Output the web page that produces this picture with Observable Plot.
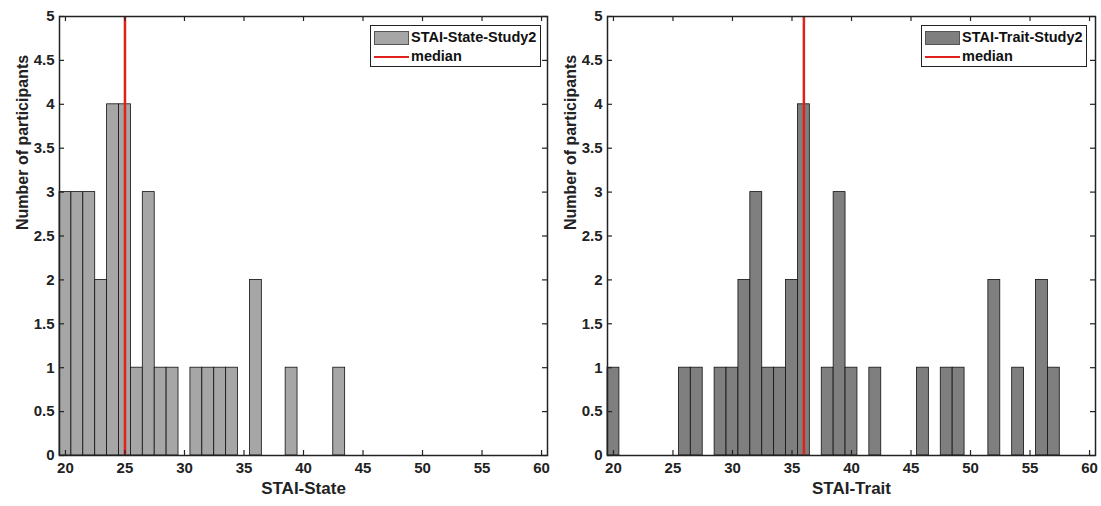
<!DOCTYPE html>
<html>
<head>
<meta charset="utf-8">
<script src="https://cdn.jsdelivr.net/npm/d3@7"></script>
<script src="https://cdn.jsdelivr.net/npm/@observablehq/plot@0.6"></script>
<style>
  html, body { margin: 0; padding: 0; background: #fff; }
  #root { position: relative; width: 1101px; height: 506px; overflow: hidden; font-family: "Liberation Sans", Arial, sans-serif; }
  .panel { position: absolute; top: 0; }
  .legend { position: absolute; background: #fff; border: 1.5px solid #222; box-sizing: border-box;
            font-weight: bold; font-size: 14.5px; color: #111; padding: 2px 3px; line-height: 19px; }
  .legend .row { display: flex; align-items: center; white-space: nowrap; }
  .legend .sw { width: 35px; height: 14px; border: 1px solid #555; box-sizing: border-box; margin-right: 2px; }
  .legend .ln { width: 35px; height: 2px; background: #e0201b; margin-right: 2px; }
</style>
</head>
<body>
<div id="root"></div>
<script>
// ---- data ----
const stateScores = [20,21,22,23,24,25,26,27,28,29,31,32,33,34,36,39,43];
const stateCounts = [ 3, 3, 3, 2, 4, 4, 1, 3, 1, 1, 1, 1, 1, 1, 2, 1, 1];
const traitScores = [20,26,27,29,30,31,32,33,34,35,36,38,39,40,42,46,48,49,52,54,56,57];
const traitCounts = [ 1, 1, 1, 1, 1, 2, 3, 1, 1, 2, 4, 1, 3, 1, 1, 1, 1, 1, 2, 1, 2, 1];
const xTicks = [20,25,30,35,40,45,50,55,60];
const yTicks = [0,0.5,1,1.5,2,2.5,3,3.5,4,4.5,5];
const panels = [
  {xLabel: "STAI-State", legend: "STAI-State-Study2", scores: stateScores, counts: stateCounts, fill: "#a6a6a6"},
  {xLabel: "STAI-Trait", legend: "STAI-Trait-Study2", scores: traitScores, counts: traitCounts, fill: "#7f7f7f"}
];

const root = document.getElementById("root");
const layout = [
  {left: 0, width: 550, mL: 59, mR: 3, legend: {x: 370, w: 171}},
  {left: 550, width: 551, mL: 57, mR: 6, legend: {x: 921, w: 166}}
];
const mT = 16, mB = 51, H = 506;
const frameH = H - mT - mB;

panels.forEach((p, i) => {
  const L = layout[i];
  const frameW = L.width - L.mL - L.mR;
  const data = p.scores.map((s, k) => ({score: s, count: p.counts[k]}));
  const expanded = data.flatMap(d => Array(d.count).fill(d.score));
  const median = d3.median(expanded);
  const chart = Plot.plot({
    width: L.width, height: H,
    marginLeft: L.mL, marginRight: L.mR, marginTop: mT, marginBottom: mB,
    style: {fontFamily: "Liberation Sans, Arial, sans-serif", fontSize: "15px", fontWeight: "bold", color: "#222", background: "#fff"},
    x: {domain: [19.5, 60.5]},
    y: {domain: [0, 5]},
    marks: [
      Plot.rectY(data, {x1: d => d.score - 0.5, x2: d => d.score + 0.5, y: "count", fill: p.fill, stroke: "#111", strokeWidth: 0.8}),
      Plot.ruleX([median], {stroke: "#e0201b", strokeWidth: 2.5}),
      // inward ticks on all four sides (MATLAB box style)
      Plot.ruleX(xTicks, {stroke: "#222", strokeWidth: 1.2, insetTop: frameH - 5}),
      Plot.ruleX(xTicks, {stroke: "#222", strokeWidth: 1.2, insetBottom: frameH - 5}),
      Plot.ruleY(yTicks, {stroke: "#222", strokeWidth: 1.2, insetRight: frameW - 5}),
      Plot.ruleY(yTicks, {stroke: "#222", strokeWidth: 1.2, insetLeft: frameW - 5}),
      Plot.frame({stroke: "#222", strokeWidth: 1.5}),
      Plot.axisX(xTicks, {tickSize: 0, tickPadding: 7, fontSize: 15, fontWeight: "bold", label: null, tickFormat: d => String(d)}),
      Plot.axisY(yTicks, {tickSize: 0, tickPadding: 5, fontSize: 15, fontWeight: "bold", label: null, tickFormat: d => String(d)}),
      Plot.text([p.xLabel], {frameAnchor: "bottom", dy: 38, fontSize: 17, fontWeight: "bold", fill: "#222"}),
      Plot.text(["Number of participants"], {frameAnchor: "left", dx: -37, dy: -6, rotate: -90, fontSize: 16, fontWeight: "bold", fill: "#222"})
    ]
  });
  const wrap = document.createElement("div");
  wrap.className = "panel";
  wrap.style.left = L.left + "px";
  wrap.appendChild(chart);
  root.appendChild(wrap);

  const lg = document.createElement("div");
  lg.className = "legend";
  lg.style.left = L.legend.x + "px";
  lg.style.top = "25px";
  lg.style.width = L.legend.w + "px";
  lg.style.height = "42px";
  lg.innerHTML = `<div class="row"><div class="sw" style="background:${p.fill}"></div>${p.legend}</div>` +
                 `<div class="row"><div class="ln"></div>median</div>`;
  root.appendChild(lg);
});
</script>
</body>
</html>
